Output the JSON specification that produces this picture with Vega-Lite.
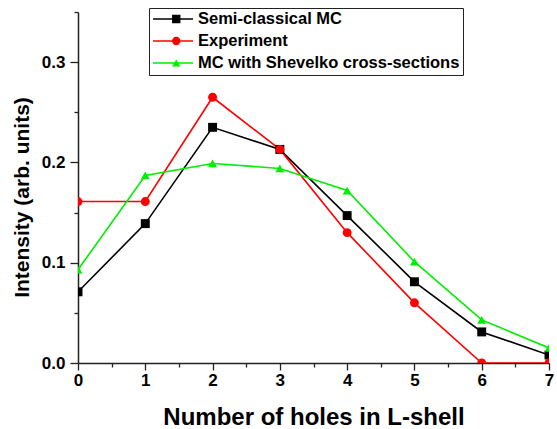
{
  "$schema": "https://vega.github.io/schema/vega-lite/v6.json",
  "width": 471,
  "height": 351,
  "autosize": {"type": "none"},
  "padding": {"left": 78, "top": 12, "right": 8, "bottom": 66},
  "background": "white",
  "config": {
    "view": {"stroke": null},
    "font": "Liberation Sans",
    "axis": {
      "domainColor": "#222222",
      "domainWidth": 1.5,
      "tickColor": "#222222",
      "tickWidth": 1.3,
      "grid": false,
      "labelFont": "Liberation Sans",
      "labelFontWeight": "bold",
      "labelFontSize": 17,
      "labelColor": "black",
      "titleFont": "Liberation Sans",
      "titleFontWeight": "bold",
      "titleColor": "black"
    },
    "legend": {
      "title": null,
      "orient": "none",
      "legendX": 71,
      "legendY": -4,
      "direction": "vertical",
      "padding": 3,
      "clipHeight": 16,
      "rowPadding": 5,
      "labelFont": "Liberation Sans",
      "labelFontSize": 16.5,
      "labelFontWeight": "bold",
      "labelLimit": 400
    }
  },
  "data": {
    "values": [
      {"n": 0, "s": "Semi-classical MC", "v": 0.071},
      {"n": 1, "s": "Semi-classical MC", "v": 0.139},
      {"n": 2, "s": "Semi-classical MC", "v": 0.235},
      {"n": 3, "s": "Semi-classical MC", "v": 0.213},
      {"n": 4, "s": "Semi-classical MC", "v": 0.147},
      {"n": 5, "s": "Semi-classical MC", "v": 0.081},
      {"n": 6, "s": "Semi-classical MC", "v": 0.031},
      {"n": 7, "s": "Semi-classical MC", "v": 0.008},
      {"n": 0, "s": "Experiment", "v": 0.161},
      {"n": 1, "s": "Experiment", "v": 0.161},
      {"n": 2, "s": "Experiment", "v": 0.265},
      {"n": 3, "s": "Experiment", "v": 0.213},
      {"n": 4, "s": "Experiment", "v": 0.130},
      {"n": 5, "s": "Experiment", "v": 0.060},
      {"n": 6, "s": "Experiment", "v": 0.0},
      {"n": 7, "s": "Experiment", "v": 0.0},
      {"n": 0, "s": "MC with Shevelko cross-sections", "v": 0.093},
      {"n": 1, "s": "MC with Shevelko cross-sections", "v": 0.187},
      {"n": 2, "s": "MC with Shevelko cross-sections", "v": 0.199},
      {"n": 3, "s": "MC with Shevelko cross-sections", "v": 0.194},
      {"n": 4, "s": "MC with Shevelko cross-sections", "v": 0.172},
      {"n": 5, "s": "MC with Shevelko cross-sections", "v": 0.101},
      {"n": 6, "s": "MC with Shevelko cross-sections", "v": 0.043},
      {"n": 7, "s": "MC with Shevelko cross-sections", "v": 0.015}
    ]
  },
  "encoding": {
    "x": {
      "field": "n",
      "type": "quantitative",
      "scale": {"domain": [0, 7], "nice": false, "zero": false},
      "axis": {
        "title": "Number of holes in L-shell",
        "titleFontSize": 24,
        "titleY": 61,
        "titleBaseline": "alphabetic",
        "values": [0, 0.5, 1, 1.5, 2, 2.5, 3, 3.5, 4, 4.5, 5, 5.5, 6, 6.5, 7],
        "labelExpr": "datum.value % 1 === 0 ? format(datum.value, 'd') : ''",
        "tickSize": {"condition": {"test": "datum.value % 1 === 0", "value": 7}, "value": 4},
        "labelPadding": 2,
        "labelFlush": false,
        "labelOverlap": false
      }
    },
    "y": {
      "field": "v",
      "type": "quantitative",
      "scale": {"domain": [0, 0.35], "nice": false},
      "axis": {
        "title": "Intensity (arb. units)",
        "titleFontSize": 21,
        "titleAngle": 270,
        "titleX": -50,
        "titleY": 185,
        "titleAlign": "center",
        "titleBaseline": "alphabetic",
        "values": [0, 0.05, 0.1, 0.15, 0.2, 0.25, 0.3, 0.35],
        "labelExpr": "round(datum.value * 20) % 2 === 0 && datum.value < 0.34 ? format(datum.value, '.1f') : ''",
        "tickSize": {"condition": {"test": "round(datum.value * 20) % 2 === 0", "value": 8}, "value": 4},
        "labelPadding": 5,
        "labelFlush": false,
        "labelOverlap": false
      }
    }
  },
  "layer": [
    {
      "mark": {"type": "line", "strokeWidth": 1.6, "clip": true},
      "encoding": {
        "stroke": {
          "field": "s",
          "type": "nominal",
          "sort": ["Semi-classical MC", "Experiment", "MC with Shevelko cross-sections"],
          "scale": {"range": ["#000000", "#ff0000", "#00ee00"]},
          "legend": {
            "symbolType": "stroke",
            "symbolSize": 1600,
            "symbolStrokeWidth": 1.6,
            "symbolOffset": 0,
            "labelOffset": 4,
            "labelColor": "black",
            "strokeColor": "#222222",
            "fillColor": "white"
          }
        }
      }
    },
    {
      "mark": {"type": "point", "filled": true, "opacity": 1, "size": 80, "clip": true},
      "encoding": {
        "color": {
          "field": "s",
          "type": "nominal",
          "scale": {
            "domain": ["Semi-classical MC", "Experiment", "MC with Shevelko cross-sections"],
            "range": ["#000000", "#ff0000", "#00ee00"]
          },
          "legend": {
            "symbolSize": 70,
            "symbolOffset": 16,
            "symbolOpacity": 1,
            "labelOffset": 36,
            "labelExpr": "''"
          }
        },
        "shape": {
          "field": "s",
          "type": "nominal",
          "scale": {
            "domain": ["Semi-classical MC", "Experiment", "MC with Shevelko cross-sections"],
            "range": ["square", "circle", "triangle-up"]
          },
          "legend": {
            "symbolSize": 70,
            "symbolOffset": 16,
            "symbolOpacity": 1,
            "labelOffset": 36,
            "labelExpr": "''"
          }
        }
      }
    }
  ]
}
